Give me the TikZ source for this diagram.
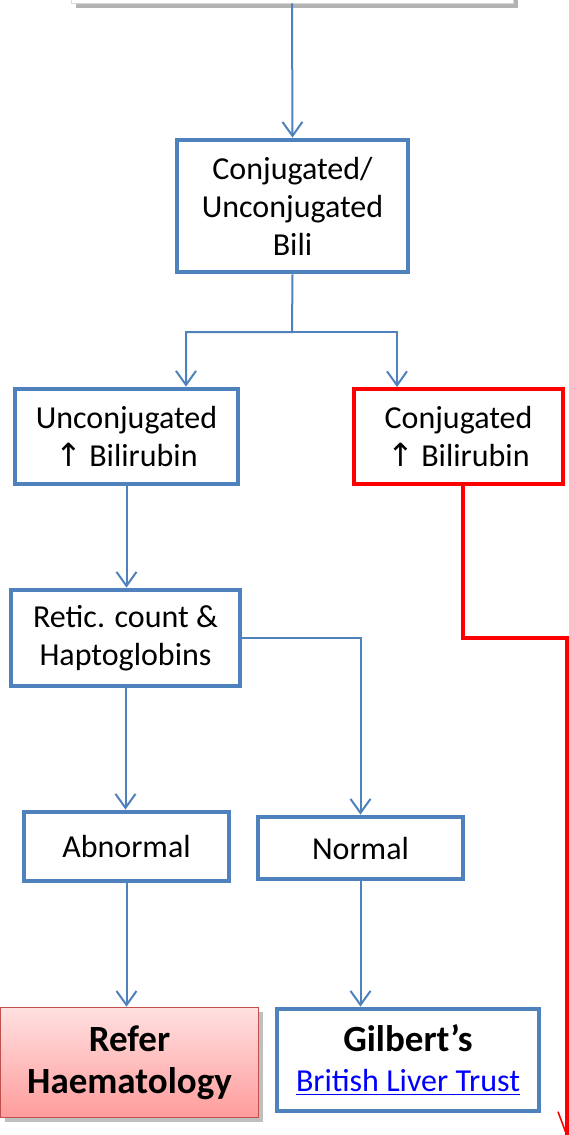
\documentclass[tikz,border=0pt]{standalone}
\usepackage{fontspec}
\setmainfont{Carlito}
\newfontfamily\symfont{DejaVu Sans}
\usetikzlibrary{arrows.meta, shadows, positioning}
\definecolor{boxblue}{RGB}{79,129,189}
\definecolor{linkblue}{RGB}{0,0,255}
\definecolor{referedge}{RGB}{192,80,77}
\definecolor{refertop}{RGB}{255,224,224}
\definecolor{referbot}{RGB}{255,156,156}
\tikzstyle{process} = [rectangle,
inner sep=0pt,
align=center,
draw=boxblue,
line width=2.4pt,
fill=white,
font=\fontsize{16}{19}\selectfont]
\tikzstyle{alert} = [process, draw=red, line width=2pt]
\tikzstyle{outcome} = [rectangle,
inner sep=0pt,
align=center,
draw=referedge,
line width=0.8pt,
top color=refertop,
bottom color=referbot,
drop shadow={opacity=0.5},
font=\bfseries\fontsize{18.5}{21}\selectfont]
\tikzstyle{arrow} = [draw=boxblue, line width=1pt, -{Straight Barb[length=7pt,width=10pt]}]
\tikzstyle{redarrow} = [draw=red, line width=2pt, -{Straight Barb[length=12pt,width=9pt,line width=0.8pt]}]

\begin{document}
\begin{tikzpicture}[x=0.5pt, y=-0.5pt]
			\useasboundingbox (0,0) rectangle (568,1135);
			\node (top) [rectangle, draw=gray!30, fill=white, drop shadow={opacity=0.6}, minimum width=221pt, minimum height=33pt] at (292,-30) {};
			\node (bili) [process, minimum width=115.5pt, minimum height=66pt] at (292.5,206) {Conjugated/\\Unconjugated\\Bili};
			\node (unconj) [process, minimum width=111.5pt, minimum height=47.5pt] at (126.5,436.5) {Unconjugated\\{\symfont ↑} Bilirubin};
			\node (conj) [alert, minimum width=104.5pt, minimum height=47.5pt] at (458.5,436.5) {Conjugated\\{\symfont ↑} Bilirubin};
			\node (retic) [process, minimum width=114.5pt, minimum height=48pt] at (125.5,638) {Retic. count \&\\Haptoglobins};
			\node (abn) [process, minimum width=102.5pt, minimum height=34.5pt] at (126.5,846.5) {Abnormal};
			\node (norm) [process, minimum width=102.5pt, minimum height=31pt] at (360.5,848) {Normal};
			\node (refer) [outcome, minimum width=129pt, minimum height=55pt] at (129.5,1062.5) {Refer\\Haematology};
			\node (gilb) [process, minimum width=131pt, minimum height=51pt, font=\fontsize{16}{20}\selectfont] at (408,1060) {{\bfseries\fontsize{18.5}{21}\selectfont Gilbert’s}\\\textcolor{linkblue}{\underline{British Liver Trust}}};

			\coordinate (split) at (292,332);
			\coordinate (redbend) at (567,638);
			\coordinate (redend) at (567,1138);

			\draw[arrow] (top.south) -- (bili.north);
			\draw[arrow] (bili.south) -- (split) -| ([xshift=29.75pt]unconj.north);
			\draw[arrow] (split) -| ([xshift=-30.75pt]conj.north);
			\draw[arrow] (unconj.south) -- (unconj.south |- retic.north);
			\draw[arrow] (retic.east) -| (norm.north);
			\draw[arrow] (retic.south) -- (retic.south |- abn.north);
			\draw[arrow] (abn.south) -- (abn.south |- refer.north);
			\draw[arrow] (norm.south) -- (norm.south |- gilb.north);
			\draw[redarrow] ([xshift=2.25pt]conj.south) |- (redbend) -- (redend);
		\end{tikzpicture}
\end{document}
